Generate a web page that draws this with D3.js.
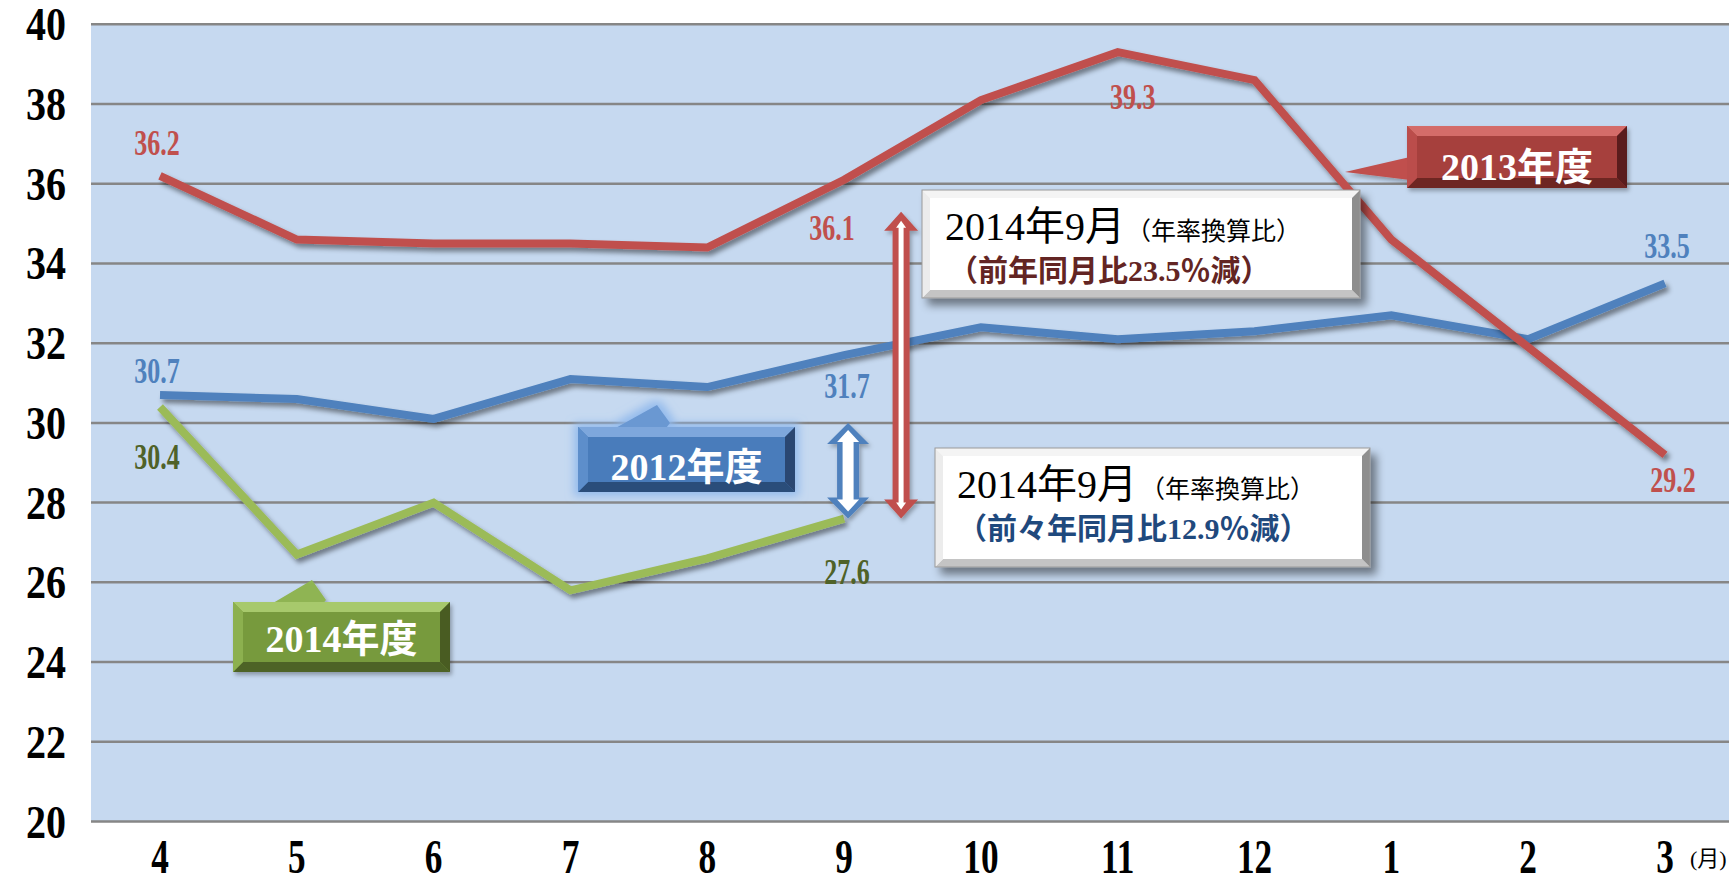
<!DOCTYPE html>
<meta charset="utf-8">
<style>
body { margin: 0; background: #fff; }
svg text { font-family: "Liberation Serif", "Noto Sans CJK JP", serif; }
</style>
<body>
<svg width="1729" height="884"></svg>
<script src="https://d3js.org/d3.v7.min.js"></script>
<script>

// data
var months = ["4","5","6","7","8","9","10","11","12","1","2","3"];
var fy2013 = [36.2,34.6,34.5,34.5,34.4,36.1,38.1,39.3,38.6,34.6,31.9,29.2];
var fy2012 = [30.7,30.6,30.1,31.1,30.9,31.7,32.4,32.1,32.3,32.7,32.1,33.5];
var fy2014 = [30.4,26.7,28.0,25.8,26.6,27.6];
var yTicks = [20,22,24,26,28,30,32,34,36,38,40];
var gapRed = [27.6, 35.3];   // 2013 vs 2014, Sept
var gapBlue = [27.6, 30.0];  // 2012 vs 2014, Sept

var svg = d3.select("svg"),
    width = +svg.attr("width"),
    height = +svg.attr("height");

var plot = {left: 91, right: 1729, top: 24.3, bottom: 821.5};

var x = d3.scalePoint()
	.domain(months)
	.range([160, 1665]);

var y = d3.scaleLinear()
	.domain([20, 40])
	.range([plot.bottom, plot.top]);

// narrow, tall digits like the original's condensed serif
function condensed(px, py, sx) {
	return "translate(" + px + "," + py + ") scale(" + (sx || 0.84) + ",1.16)";
}

var defs = svg.append("defs");

function shadow(id, dx, dy, sd, op) {
	defs.append("filter")
		.attr("id", id)
		.attr("x", "-20%").attr("y", "-20%")
		.attr("width", "150%").attr("height", "160%")
		.append("feDropShadow")
		.attr("dx", dx).attr("dy", dy)
		.attr("stdDeviation", sd)
		.attr("flood-color", "#000")
		.attr("flood-opacity", op);
}
shadow("lineShadow", 3, 4, 2.5, 0.45);
shadow("boxShadow", 6, 7, 4, 0.45);
shadow("arrowShadow", 2, 3, 2, 0.3);

var glow = defs.append("filter").attr("id", "glow")
	.attr("x", "-20%").attr("y", "-30%").attr("width", "140%").attr("height", "160%");
glow.append("feMorphology").attr("in", "SourceAlpha").attr("operator", "dilate").attr("radius", 4).attr("result", "d");
glow.append("feGaussianBlur").attr("in", "d").attr("stdDeviation", 4).attr("result", "b");
glow.append("feFlood").attr("flood-color", "#8fb8ec").attr("flood-opacity", 0.9);
glow.append("feComposite").attr("in2", "b").attr("operator", "in").attr("result", "g");
var gm = glow.append("feMerge");
gm.append("feMergeNode").attr("in", "g");
gm.append("feMergeNode").attr("in", "SourceGraphic");

// plot background
svg.append("rect")
	.attr("x", plot.left)
	.attr("y", plot.top)
	.attr("width", plot.right - plot.left)
	.attr("height", plot.bottom - plot.top)
	.attr("fill", "#c6d9f0");

// grid
svg.selectAll(".grid")
	.data(yTicks)
	.enter().append("line")
	.attr("class", "grid")
	.attr("x1", plot.left)
	.attr("x2", plot.right)
	.attr("y1", function(d){ return y(d); })
	.attr("y2", function(d){ return y(d); })
	.attr("stroke", "#868686")
	.attr("stroke-width", 2.5);

// y labels
svg.selectAll(".ylab")
	.data(yTicks)
	.enter().append("text")
	.attr("class", "ylab")
	.attr("transform", function(d){ return condensed(66, y(d) + 16, 1); })
	.attr("text-anchor", "end")
	.attr("font-size", 40)
	.attr("font-weight", "bold")
	.text(function(d){ return d; });

// x labels
svg.selectAll(".xlab")
	.data(months)
	.enter().append("text")
	.attr("class", "xlab")
	.attr("transform", function(d){ return condensed(x(d), 873); })
	.attr("text-anchor", "middle")
	.attr("font-size", 42)
	.attr("font-weight", "bold")
	.text(function(d){ return d; });

svg.append("text")
	.attr("x", 1690)
	.attr("y", 866)
	.attr("font-size", 22)
	.text("(月)");

// lines
var line = d3.line()
	.x(function(d, i){ return x(months[i]); })
	.y(function(d){ return y(d); });

function drawLine(vals, color) {
	svg.append("path")
		.attr("d", line(vals))
		.attr("fill", "none")
		.attr("stroke", color)
		.attr("stroke-width", 8)
		.attr("stroke-linejoin", "miter")
		.attr("filter", "url(#lineShadow)");
}
drawLine(fy2012, "#4f81bd");
drawLine(fy2013, "#c0504d");
drawLine(fy2014, "#9bbb59");

// data labels: [month index, dx, dy]
function labels(vals, marks, color) {
	svg.selectAll(null)
		.data(marks)
		.enter().append("text")
		.attr("transform", function(m){ return condensed(x(months[m[0]]) + m[1], y(vals[m[0]]) + m[2]); })
		.attr("text-anchor", "middle")
		.attr("font-size", 31)
		.attr("font-weight", "bold")
		.attr("fill", color)
		.text(function(m){ return vals[m[0]].toFixed(1); });
}
labels(fy2013, [[0,-3,-21],[5,-12,60],[7,15,57],[11,8,37]], "#c0504d");
labels(fy2012, [[0,-3,-12],[5,3,43],[11,2,-25]], "#4f81bd");
labels(fy2014, [[0,-3,62],[5,3,65]], "#4f6228");

// double arrows
function arrowPts(cx, y1, y2, hw, hl, sw) {
	return [[cx,y1],[cx+hw/2,y1+hl],[cx+sw/2,y1+hl],[cx+sw/2,y2-hl],[cx+hw/2,y2-hl],
		[cx,y2],[cx-hw/2,y2-hl],[cx-sw/2,y2-hl],[cx-sw/2,y1+hl],[cx-hw/2,y1+hl]];
}
function doubleArrow(cx, v, color, o, inner) {
	var y1 = y(v[1]), y2 = y(v[0]);
	var g = svg.append("g").attr("filter", "url(#arrowShadow)");
	g.append("polygon")
		.attr("points", arrowPts(cx, y1, y2, o[0], o[1], o[2]).join(" "))
		.attr("fill", color);
	g.append("polygon")
		.attr("points", arrowPts(cx, y1 + inner[3], y2 - inner[3], inner[0], inner[1], inner[2]).join(" "))
		.attr("fill", "#fff");
}
doubleArrow(x("9") + 4, gapBlue, "#4f81bd", [42, 21, 22], [22, 12, 11, 7]);
doubleArrow(x("9") + 57, gapRed, "#c0504d", [34, 19, 17], [10, 7, 5, 9]);

// bevelled boxes
function bevel(g, bx, by, w, h, b, c) {
	var P = function(a){ return a.map(function(p){ return p.join(","); }).join(" "); };
	g.append("rect").attr("x", bx).attr("y", by).attr("width", w).attr("height", h).attr("fill", c.face);
	g.append("polygon").attr("points", P([[bx,by],[bx+w,by],[bx+w-b,by+b],[bx+b,by+b]])).attr("fill", c.top);
	g.append("polygon").attr("points", P([[bx,by+h],[bx+w,by+h],[bx+w-b,by+h-b],[bx+b,by+h-b]])).attr("fill", c.bottom);
	g.append("polygon").attr("points", P([[bx,by],[bx+b,by+b],[bx+b,by+h-b],[bx,by+h]])).attr("fill", c.left);
	g.append("polygon").attr("points", P([[bx+w,by],[bx+w-b,by+b],[bx+w-b,by+h-b],[bx+w,by+h]])).attr("fill", c.right);
	if (c.stroke) g.append("rect").attr("x", bx).attr("y", by).attr("width", w).attr("height", h)
		.attr("fill", "none").attr("stroke", c.stroke).attr("stroke-width", 1);
}

var white = {face: "#ffffff", top: "#f4f4f4", left: "#ececec", bottom: "#c4c4c4", right: "#8e8e8e", stroke: "#9a9a9a"};

function callout(bx, by, w, h, l1, l2, col, note) {
	var g = svg.append("g");
	var gb = g.append("g").attr("filter", "url(#boxShadow)");
	bevel(gb, bx, by, w, h, 8, white);
	var t = g.append("text").attr("x", l1[0]).attr("y", l1[1]).attr("font-size", 40).attr("fill", "#000");
	t.append("tspan").text("2014年9月");
	t.append("tspan").attr("x", l1[2]).attr("font-size", 25).text("（年率換算比）");
	g.append("text").attr("x", l2[0]).attr("y", l2[1])
		.attr("font-size", 30).attr("font-weight", "bold").attr("fill", col)
		.text(note);
}
callout(922, 190, 438, 108, [945, 240, 1126], [948, 281], "#632523", "（前年同月比23.5％減）");
callout(935, 448, 435, 119, [957, 498, 1140], [957, 539], "#1f497d", "（前々年同月比12.9％減）");

// series name tags
function tag(bx, by, w, h, c, ptr, label, base, glowOn) {
	var g = svg.append("g");
	var gg = g.append("g").attr("filter", glowOn ? "url(#glow)" : "url(#arrowShadow)");
	gg.append("polygon").attr("points", ptr.map(function(p){ return p.join(","); }).join(" ")).attr("fill", c.ptr);
	bevel(gg, bx, by, w, h, 10, c);
	g.append("text")
		.attr("x", bx + w / 2)
		.attr("y", base)
		.attr("text-anchor", "middle")
		.attr("font-size", 38)
		.attr("font-weight", "bold")
		.attr("fill", "#fff")
		.text(label);
}
tag(1407, 126, 220, 62,
	{face: "#a6403e", top: "#d46c69", left: "#bb4e4b", bottom: "#6e2624", right: "#5a1d1c", ptr: "#c0504d"},
	[[1410, 157], [1345, 172], [1410, 180]], "2013年度", 180, false);
tag(578, 427, 217, 65,
	{face: "#4a7cbb", top: "#7ea7dc", left: "#5d8ecb", bottom: "#2c4d7a", right: "#2a4672", ptr: "#6a98d2"},
	[[612, 430], [657, 405], [670, 423], [660, 436], [612, 436]], "2012年度", 480, true);
tag(233, 602, 217, 70,
	{face: "#779a3e", top: "#a7c96c", left: "#8cb04f", bottom: "#4e6327", right: "#495c22", ptr: "#8fb452"},
	[[268, 606], [312, 580], [326, 600], [318, 610], [268, 610]], "2014年度", 652, false);

</script>
</body>
</html>
